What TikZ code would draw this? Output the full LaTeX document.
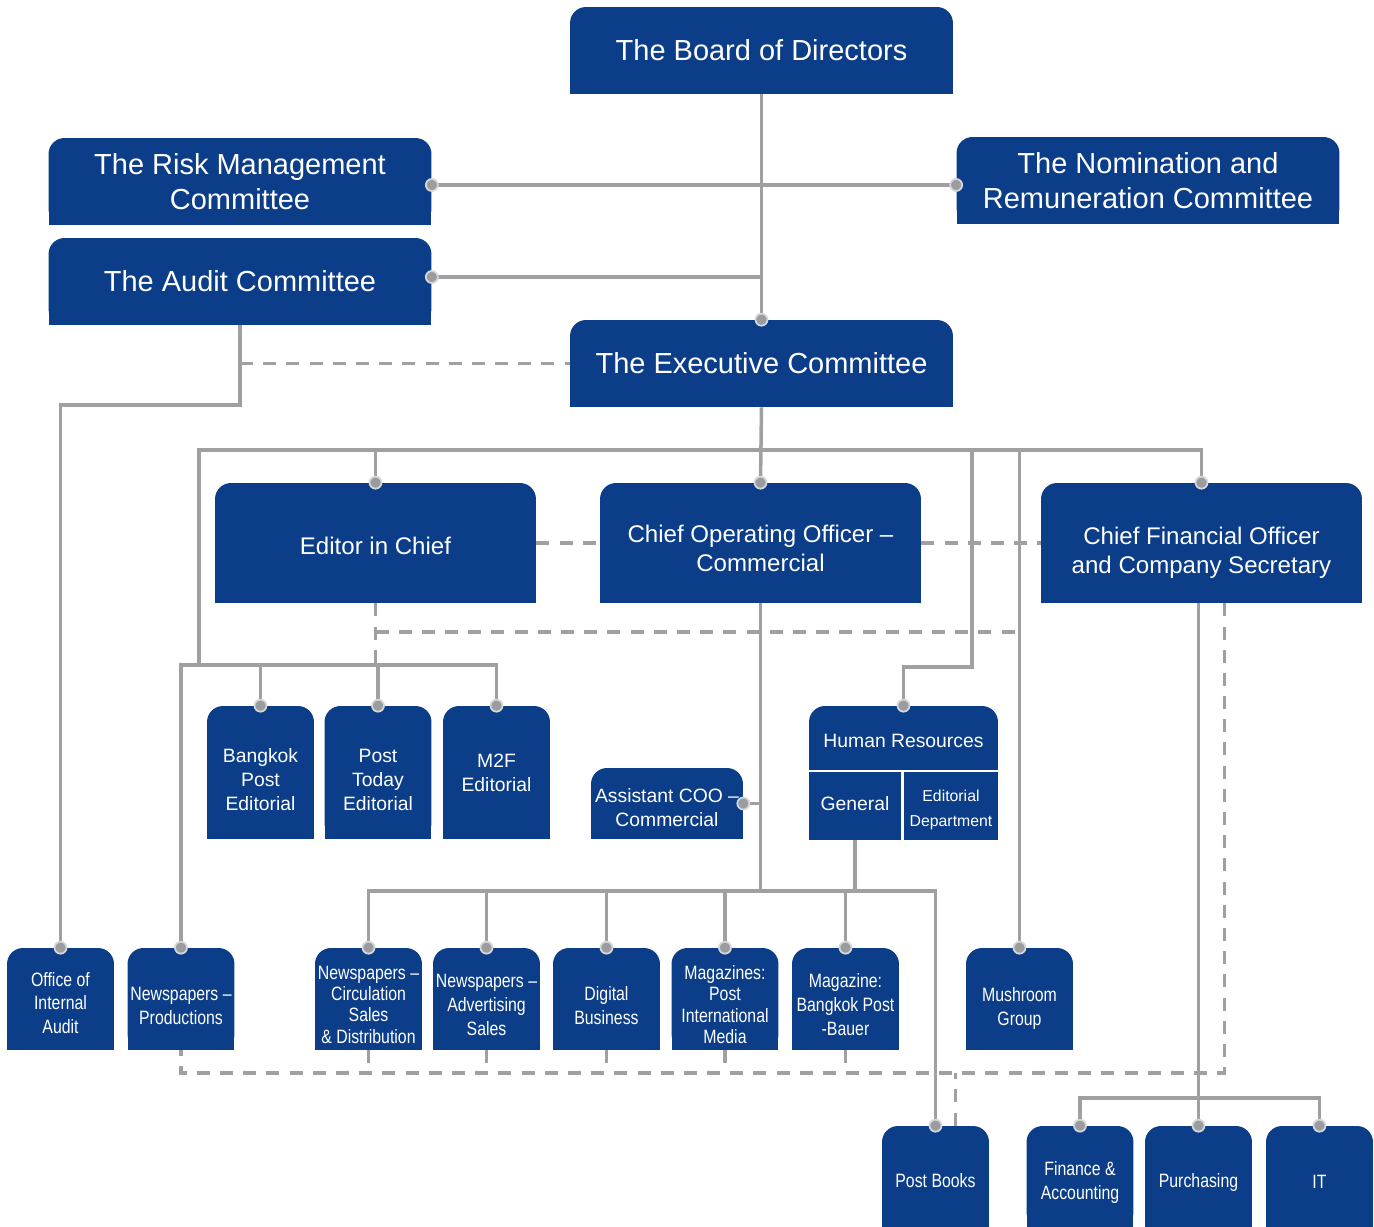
\documentclass[tikz,border=0pt]{standalone}
\usepackage{fontspec}
\setmainfont{Liberation Sans}
\newfontfamily\narrowfont[FakeStretch=0.82,Ligatures=TeX]{Liberation Sans}
\usetikzlibrary{calc}
\definecolor{navy}{RGB}{11,61,137}
\definecolor{linegray}{RGB}{160,160,163}
\definecolor{dotgray}{RGB}{155,156,159}
\definecolor{ringgray}{RGB}{214,215,217}
% invisible strut that pushes a node's text down
\newcommand{\tpad}[1]{\rule{0pt}{#1}}

\begin{document}
\begin{tikzpicture}[x=0.02cm, y=-0.02cm,
  box/.style={inner sep=0pt, align=center, text=white,
    path picture={
      \fill[navy, rounded corners=0.32cm] (path picture bounding box.south west) rectangle (path picture bounding box.north east);
      \fill[navy] (path picture bounding box.south west) rectangle (path picture bounding box.east);}},
  flatbox/.style={inner sep=0pt, align=center, text=white, fill=navy},
  bigbox/.style={box, minimum width=7.66cm, minimum height=1.74cm, font=\fontsize{16.5}{20}\selectfont},
  midbox/.style={box, minimum width=6.42cm, minimum height=2.4cm, font=\fontsize{13.7}{16.5}\selectfont},
  edbox/.style={box, minimum width=2.14cm, minimum height=2.66cm, font=\fontsize{11}{13.7}\selectfont},
  unitbox/.style={box, minimum width=2.14cm, minimum height=2.04cm, font=\narrowfont\fontsize{11}{13.6}\selectfont},
  tight/.style={font=\narrowfont\fontsize{11}{12.2}\selectfont},
  link/.style={draw=linegray, line width=2pt},
  dlink/.style={link, dash pattern=on 7.4pt off 5.8pt},
  dot/.style={fill=dotgray, draw=ringgray, line width=1pt}
]
\useasboundingbox (0,0) rectangle (1374,1227);

% board and committees
\node[bigbox] (board) at (761.5,50.5) {The Board of Directors};
\node[bigbox] (risk) at (240,181.5) {The Risk Management\\Committee};
\node[bigbox] (nom) at (1148,180.5) {The Nomination and\\Remuneration Committee};
\node[bigbox] (audit) at (240,281.5) {The Audit Committee};
\node[bigbox] (exec) at (761.5,363.5) {The Executive Committee};
\coordinate (riskc) at ($(risk.east)+(0,3.5)$);
\coordinate (nomc) at (nom.west |- riskc);
\coordinate (auditc) at ($(audit.east)+(0,-4.5)$);

% chiefs
\node[midbox] (editor) at (375.5,543) {\tpad{13.4pt}Editor in Chief};
\node[midbox] (coo) at (760.5,543) {\tpad{15.7pt}Chief Operating Officer –\\Commercial};
\node[midbox] (cfo) at (1201.5,543) {\tpad{21.3pt}Chief Financial Officer\\and Company Secretary};

% middle row
\node[edbox] (bpe) at (260.5,772.5) {\tpad{16pt}Bangkok\\Post\\Editorial};
\node[edbox] (pte) at (378,772.5) {\tpad{16pt}Post\\Today\\Editorial};
\node[edbox] (m2f) at (496.5,772.5) {M2F\\Editorial};
\node[box, minimum width=3.04cm, minimum height=1.42cm, font=\fontsize{11}{13.7}\selectfont] (acoo) at (667,803.5) {\tpad{12.5pt}Assistant COO –\\Commercial};
\node[box, minimum width=3.78cm, minimum height=1.28cm, font=\fontsize{11}{13.7}\selectfont] (hr) at (903.5,738) {\tpad{11.4pt}Human Resources};
\node[flatbox, minimum width=1.84cm, minimum height=1.36cm, font=\fontsize{11}{13.7}\selectfont] (gen) at (855,806) {General\rule[-3.4pt]{0pt}{0pt}};
\node[flatbox, minimum width=1.88cm, minimum height=1.36cm, font=\fontsize{9}{13.7}\selectfont] (edep) at (951,806) {\tpad{11pt}Editorial\\Department};

% units
\node[unitbox] (office) at (60.5,999) {\tpad{12.5pt}Office of\\Internal\\Audit};
\node[unitbox] (prod) at (181,999) {\tpad{15pt}Newspapers –\\Productions};
\node[unitbox, tight] (circ) at (368.5,999) {\tpad{14pt}Newspapers –\\Circulation\\Sales\\\& Distribution};
\node[unitbox] (adv) at (486.5,999) {\tpad{14.5pt}Newspapers –\\Advertising\\Sales};
\node[unitbox] (digi) at (606.5,999) {\tpad{15pt}Digital\\Business};
\node[unitbox, tight] (mags) at (725,999) {\tpad{14.5pt}Magazines:\\Post\\International\\Media};
\node[unitbox] (magbp) at (845.5,999) {\tpad{14.5pt}Magazine:\\Bangkok Post\\-Bauer};
\node[unitbox] (mush) at (1019.5,999) {\tpad{19pt}Mushroom\\Group};
\node[unitbox] (books) at (935.5,1177) {\tpad{12.5pt}Post Books};
\node[unitbox] (fin) at (1080,1177) {\tpad{14.5pt}Finance \&\\Accounting};
\node[unitbox] (purch) at (1198.5,1177) {\tpad{14.5pt}Purchasing};
\node[unitbox] (it) at (1319.5,1177) {\tpad{13.5pt}IT};

% solid lines
\draw[link] (board.south) -- (exec.north);
\draw[link] (riskc) -- (nomc);
\draw[link] (auditc) -- (auditc -| board.south);
\draw[link] (audit.south) |- (office.north |- 0,405) -- (office.north);
\draw[link] (exec.south) -- (coo.north);
\draw[link] (cfo.north) |- (199,450) -- (199,665);
\draw[link] (editor.north) -- (editor.north |- 0,450);
\draw[link] (prod.north) |- (m2f.north |- 0,665) -- (m2f.north);
\draw[link] (bpe.north) -- (bpe.north |- 0,665);
\draw[link] (pte.north) -- (pte.north |- 0,665);
\draw[link] (hr.north) |- (972,667) -- (972,450);
\draw[link] (mush.north) -- (mush.north |- 0,450);
\draw[link] (coo.south) -- (coo.south |- 0,891);
\draw[link] (acoo.east) -- (acoo.east -| coo.south);
\draw[link] (circ.north) |- (books.north |- 0,891) -- (books.north);
\foreach \n in {adv,digi,mags,magbp}
  \draw[link] (\n.north) -- (\n.north |- 0,891);
\draw[link] (gen.south) -- (gen.south |- 0,891);
\draw[link] (purch.north |- cfo.south) -- (purch.north);
\draw[link] (fin.north) |- (it.north |- 0,1098) -- (it.north);

% dashed lines
\draw[dlink] (audit.south |- exec.west) -- (exec.west);
\draw[dlink] (editor.east) -- (coo.west);
\draw[dlink] (coo.east) -- (cfo.west);
\draw[dlink] (editor.south) -- (editor.south |- 0,665);
\draw[dlink] (editor.south |- 0,632) -- (mush.north |- 0,632);
\draw[dlink] ($(cfo.south)+(23,0)$) |- (prod.south |- 0,1073) -- (prod.south);
\foreach \n in {circ,adv,digi,mags,magbp}
  \draw[dlink] (\n.south) -- (\n.south |- 0,1073);
\draw[dlink] ($(books.north)+(20,0)$) -- ++(0,-53);

% dots
\foreach \p in {exec.north,riskc,nomc,auditc,office.north,prod.north,
  editor.north,coo.north,cfo.north,bpe.north,pte.north,m2f.north,hr.north,
  acoo.east,mush.north,circ.north,adv.north,digi.north,mags.north,magbp.north,
  books.north,fin.north,purch.north,it.north}
  \filldraw[dot] (\p) circle (0.12cm);
\end{tikzpicture}
\end{document}
